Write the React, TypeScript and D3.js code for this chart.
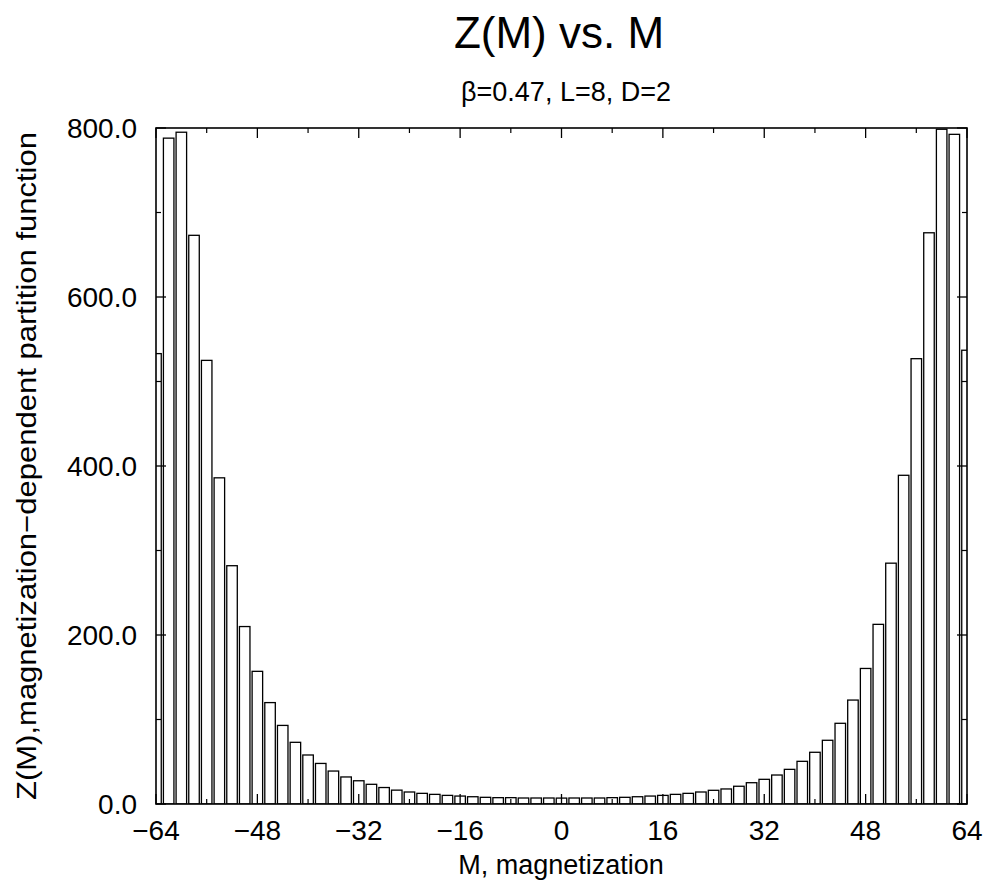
import React from "react";
import * as d3 from "d3";

const magnetization = [
  -64, -62, -60, -58, -56, -54, -52, -50, -48, -46, -44, -42, -40, -38, -36, -34,
  -32, -30, -28, -26, -24, -22, -20, -18, -16, -14, -12, -10, -8, -6, -4, -2,
  0, 2, 4, 6, 8, 10, 12, 14, 16, 18, 20, 22, 24, 26, 28, 30,
  32, 34, 36, 38, 40, 42, 44, 46, 48, 50, 52, 54, 56, 58, 60, 62, 64,
];
const partitionZ = [
  533, 788, 795, 673, 525, 386, 282, 210, 157, 120, 93, 73, 58, 48, 39, 32,
  27.5, 23.3, 19.5, 16.4, 14.2, 12.6, 11.4, 10.2, 9.4, 8.6, 7.9, 7.5, 7.5, 7.1, 7.1, 7.1,
  7.0, 7.1, 7.1, 7.1, 7.5, 7.9, 8.6, 9.4, 10.2, 11.4, 12.6, 14.2, 16.2, 17.8, 21, 25.2,
  29.2, 34.3, 41, 50.5, 61.2, 75.4, 95.5, 123, 160.4, 212.6, 285, 389, 527, 676, 798.5, 792.5, 537,
];
const xMajorTicks = [-64, -48, -32, -16, 0, 16, 32, 48, 64];
const xMinorTicks = [-56, -40, -24, -8, 8, 24, 40, 56];
const yMajorTicks = [0, 200, 400, 600, 800];
const yMinorTicks = [100, 300, 500, 700];

const title = "Z(M) vs. M";
const subtitle = "β=0.47, L=8, D=2";
const xLabel = "M, magnetization";
const yLabel = "Z(M),magnetization\u2212dependent partition function";

export default function App() {
  const W = 988, H = 883;
  const left = 156, right = 967, top = 128, bottom = 804;
  const x = d3.scaleLinear().domain([-64, 64]).range([left, right]);
  const y = d3.scaleLinear().domain([0, 800]).range([bottom, top]);
  const bw = (x(2) - x(0)) * 0.83;
  const font = "'Liberation Sans', Arial, Helvetica, sans-serif";
  const fmtX = (v: number) => (v < 0 ? "\u2212" + Math.abs(v) : String(v));
  const fmtY = d3.format(".1f");
  const major = 10, minor = 5;

  return (
    <svg width={W} height={H} style={{ position: "absolute", left: 0, top: 0, background: "#fff" }} fontFamily={font}>
      <defs>
        <clipPath id="plotclip">
          <rect x={left} y={top} width={right - left} height={bottom - top} />
        </clipPath>
      </defs>
      <rect x={0} y={0} width={W} height={H} fill="#fff" />
      <text x={559} y={48} textAnchor="middle" fontSize={44}>{title}</text>
      <text x={566} y={101} textAnchor="middle" fontSize={27}>{subtitle}</text>

      <g clipPath="url(#plotclip)">
        {magnetization.map((m, i) => (
          <rect
            key={m}
            x={x(m) - bw / 2}
            y={y(partitionZ[i])}
            width={bw}
            height={bottom - y(partitionZ[i])}
            fill="#fff"
            stroke="#000"
            strokeWidth={1.3}
          />
        ))}
      </g>

      <rect x={left} y={top} width={right - left} height={bottom - top} fill="none" stroke="#000" strokeWidth={1.6} />

      {xMajorTicks.map((t) => (
        <g key={"xM" + t}>
          <line x1={x(t)} x2={x(t)} y1={bottom} y2={bottom - major} stroke="#000" strokeWidth={1.3} />
          <line x1={x(t)} x2={x(t)} y1={top} y2={top + major} stroke="#000" strokeWidth={1.3} />
          <text x={x(t)} y={840} textAnchor="middle" fontSize={28}>{fmtX(t)}</text>
        </g>
      ))}
      {xMinorTicks.map((t) => (
        <g key={"xm" + t}>
          <line x1={x(t)} x2={x(t)} y1={bottom} y2={bottom - minor} stroke="#000" strokeWidth={1.2} />
          <line x1={x(t)} x2={x(t)} y1={top} y2={top + minor} stroke="#000" strokeWidth={1.2} />
        </g>
      ))}
      {yMajorTicks.map((t) => (
        <g key={"yM" + t}>
          <line x1={left} x2={left + major} y1={y(t)} y2={y(t)} stroke="#000" strokeWidth={1.3} />
          <line x1={right} x2={right - major} y1={y(t)} y2={y(t)} stroke="#000" strokeWidth={1.3} />
          <text x={137} y={y(t) + 10} textAnchor="end" fontSize={28}>{fmtY(t)}</text>
        </g>
      ))}
      {yMinorTicks.map((t) => (
        <g key={"ym" + t}>
          <line x1={left} x2={left + minor} y1={y(t)} y2={y(t)} stroke="#000" strokeWidth={1.2} />
          <line x1={right} x2={right - minor} y1={y(t)} y2={y(t)} stroke="#000" strokeWidth={1.2} />
        </g>
      ))}

      <text x={561} y={874} textAnchor="middle" fontSize={27}>{xLabel}</text>
      <text
        transform={`translate(36, ${(top + bottom) / 2}) rotate(-90)`}
        textAnchor="middle"
        fontSize={28}
        textLength={668}
        lengthAdjust="spacingAndGlyphs"
      >
        {yLabel}
      </text>
    </svg>
  );
}
